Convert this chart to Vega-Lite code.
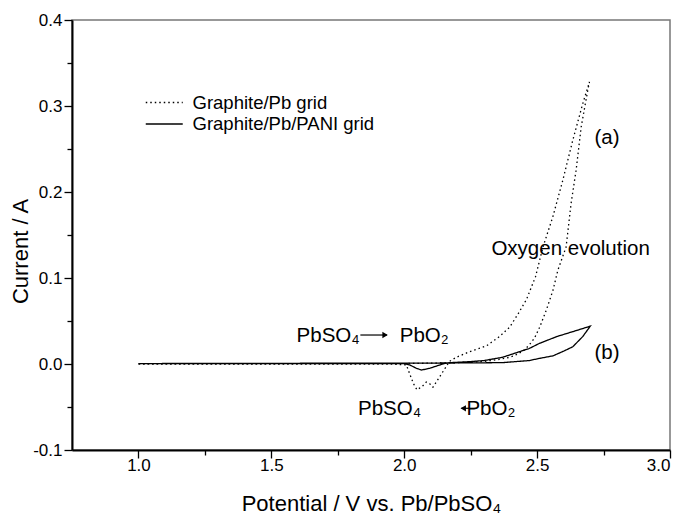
{
  "$schema": "https://vega.github.io/schema/vega-lite/v6.json",
  "width": 598,
  "height": 430,
  "autosize": {"type": "none"},
  "padding": {"left": 72, "top": 20, "right": 13, "bottom": 66},
  "background": "white",
  "config": {
    "font": "Liberation Sans",
    "view": {"stroke": "#777", "strokeWidth": 1.5},
    "axis": {
      "grid": false,
      "domainColor": "black",
      "domainWidth": 2,
      "tickColor": "black",
      "tickWidth": 1.3,
      "labelFont": "Liberation Sans",
      "labelFontSize": 17,
      "labelColor": "black",
      "titleFont": "Liberation Sans",
      "titleFontSize": 22,
      "titleFontWeight": "normal",
      "titleColor": "black"
    }
  },
  "datasets": {
    "curves": [
      {"series": "Graphite/Pb grid", "seq": 1, "V": 1.00, "I": 0.0000},
      {"series": "Graphite/Pb grid", "seq": 2, "V": 1.50, "I": 0.0000},
      {"series": "Graphite/Pb grid", "seq": 3, "V": 2.00, "I": 0.0005},
      {"series": "Graphite/Pb grid", "seq": 4, "V": 2.10, "I": 0.0010},
      {"series": "Graphite/Pb grid", "seq": 5, "V": 2.20, "I": 0.0015},
      {"series": "Graphite/Pb grid", "seq": 6, "V": 2.30, "I": 0.0030},
      {"series": "Graphite/Pb grid", "seq": 7, "V": 2.35, "I": 0.0050},
      {"series": "Graphite/Pb grid", "seq": 8, "V": 2.40, "I": 0.0080},
      {"series": "Graphite/Pb grid", "seq": 9, "V": 2.43, "I": 0.0120},
      {"series": "Graphite/Pb grid", "seq": 10, "V": 2.45, "I": 0.0160},
      {"series": "Graphite/Pb grid", "seq": 11, "V": 2.47, "I": 0.0220},
      {"series": "Graphite/Pb grid", "seq": 12, "V": 2.49, "I": 0.0300},
      {"series": "Graphite/Pb grid", "seq": 13, "V": 2.51, "I": 0.0430},
      {"series": "Graphite/Pb grid", "seq": 14, "V": 2.535, "I": 0.0630},
      {"series": "Graphite/Pb grid", "seq": 15, "V": 2.56, "I": 0.0860},
      {"series": "Graphite/Pb grid", "seq": 16, "V": 2.578, "I": 0.1090},
      {"series": "Graphite/Pb grid", "seq": 17, "V": 2.609, "I": 0.1360},
      {"series": "Graphite/Pb grid", "seq": 18, "V": 2.628, "I": 0.1870},
      {"series": "Graphite/Pb grid", "seq": 19, "V": 2.647, "I": 0.2260},
      {"series": "Graphite/Pb grid", "seq": 20, "V": 2.666, "I": 0.2760},
      {"series": "Graphite/Pb grid", "seq": 21, "V": 2.691, "I": 0.3190},
      {"series": "Graphite/Pb grid", "seq": 22, "V": 2.697, "I": 0.3280},
      {"series": "Graphite/Pb grid", "seq": 23, "V": 2.672, "I": 0.3030},
      {"series": "Graphite/Pb grid", "seq": 24, "V": 2.634, "I": 0.2600},
      {"series": "Graphite/Pb grid", "seq": 25, "V": 2.597, "I": 0.2140},
      {"series": "Graphite/Pb grid", "seq": 26, "V": 2.559, "I": 0.1710},
      {"series": "Graphite/Pb grid", "seq": 27, "V": 2.522, "I": 0.1360},
      {"series": "Graphite/Pb grid", "seq": 28, "V": 2.494, "I": 0.1015},
      {"series": "Graphite/Pb grid", "seq": 29, "V": 2.460, "I": 0.0750},
      {"series": "Graphite/Pb grid", "seq": 30, "V": 2.428, "I": 0.0580},
      {"series": "Graphite/Pb grid", "seq": 31, "V": 2.397, "I": 0.0430},
      {"series": "Graphite/Pb grid", "seq": 32, "V": 2.359, "I": 0.0320},
      {"series": "Graphite/Pb grid", "seq": 33, "V": 2.309, "I": 0.0210},
      {"series": "Graphite/Pb grid", "seq": 34, "V": 2.246, "I": 0.0143},
      {"series": "Graphite/Pb grid", "seq": 35, "V": 2.196, "I": 0.0078},
      {"series": "Graphite/Pb grid", "seq": 36, "V": 2.170, "I": 0.0030},
      {"series": "Graphite/Pb grid", "seq": 37, "V": 2.158, "I": -0.0030},
      {"series": "Graphite/Pb grid", "seq": 38, "V": 2.133, "I": -0.0150},
      {"series": "Graphite/Pb grid", "seq": 39, "V": 2.108, "I": -0.0270},
      {"series": "Graphite/Pb grid", "seq": 40, "V": 2.096, "I": -0.0230},
      {"series": "Graphite/Pb grid", "seq": 41, "V": 2.083, "I": -0.0210},
      {"series": "Graphite/Pb grid", "seq": 42, "V": 2.068, "I": -0.0260},
      {"series": "Graphite/Pb grid", "seq": 43, "V": 2.048, "I": -0.0300},
      {"series": "Graphite/Pb grid", "seq": 44, "V": 2.035, "I": -0.0230},
      {"series": "Graphite/Pb grid", "seq": 45, "V": 2.020, "I": -0.0110},
      {"series": "Graphite/Pb grid", "seq": 46, "V": 2.008, "I": -0.0010},
      {"series": "Graphite/Pb grid", "seq": 47, "V": 1.950, "I": 0.0000},
      {"series": "Graphite/Pb grid", "seq": 48, "V": 1.500, "I": 0.0000},
      {"series": "Graphite/Pb grid", "seq": 49, "V": 1.000, "I": 0.0000},
      {"series": "Graphite/Pb/PANI grid", "seq": 1, "V": 1.00, "I": 0.0005},
      {"series": "Graphite/Pb/PANI grid", "seq": 2, "V": 1.50, "I": 0.0008},
      {"series": "Graphite/Pb/PANI grid", "seq": 3, "V": 2.00, "I": 0.0010},
      {"series": "Graphite/Pb/PANI grid", "seq": 4, "V": 2.20, "I": 0.0012},
      {"series": "Graphite/Pb/PANI grid", "seq": 5, "V": 2.30, "I": 0.0014},
      {"series": "Graphite/Pb/PANI grid", "seq": 6, "V": 2.37, "I": 0.0016},
      {"series": "Graphite/Pb/PANI grid", "seq": 7, "V": 2.47, "I": 0.0040},
      {"series": "Graphite/Pb/PANI grid", "seq": 8, "V": 2.51, "I": 0.0066},
      {"series": "Graphite/Pb/PANI grid", "seq": 9, "V": 2.56, "I": 0.0095},
      {"series": "Graphite/Pb/PANI grid", "seq": 10, "V": 2.60, "I": 0.0150},
      {"series": "Graphite/Pb/PANI grid", "seq": 11, "V": 2.634, "I": 0.0200},
      {"series": "Graphite/Pb/PANI grid", "seq": 12, "V": 2.672, "I": 0.0320},
      {"series": "Graphite/Pb/PANI grid", "seq": 13, "V": 2.700, "I": 0.0440},
      {"series": "Graphite/Pb/PANI grid", "seq": 14, "V": 2.634, "I": 0.0376},
      {"series": "Graphite/Pb/PANI grid", "seq": 15, "V": 2.575, "I": 0.0320},
      {"series": "Graphite/Pb/PANI grid", "seq": 16, "V": 2.509, "I": 0.0240},
      {"series": "Graphite/Pb/PANI grid", "seq": 17, "V": 2.470, "I": 0.0180},
      {"series": "Graphite/Pb/PANI grid", "seq": 18, "V": 2.370, "I": 0.0078},
      {"series": "Graphite/Pb/PANI grid", "seq": 19, "V": 2.300, "I": 0.0040},
      {"series": "Graphite/Pb/PANI grid", "seq": 20, "V": 2.246, "I": 0.0027},
      {"series": "Graphite/Pb/PANI grid", "seq": 21, "V": 2.170, "I": 0.0015},
      {"series": "Graphite/Pb/PANI grid", "seq": 22, "V": 2.150, "I": 0.0005},
      {"series": "Graphite/Pb/PANI grid", "seq": 23, "V": 2.125, "I": -0.0020},
      {"series": "Graphite/Pb/PANI grid", "seq": 24, "V": 2.096, "I": -0.0050},
      {"series": "Graphite/Pb/PANI grid", "seq": 25, "V": 2.065, "I": -0.0070},
      {"series": "Graphite/Pb/PANI grid", "seq": 26, "V": 2.046, "I": -0.0050},
      {"series": "Graphite/Pb/PANI grid", "seq": 27, "V": 2.020, "I": -0.0010},
      {"series": "Graphite/Pb/PANI grid", "seq": 28, "V": 2.000, "I": 0.0005},
      {"series": "Graphite/Pb/PANI grid", "seq": 29, "V": 1.500, "I": 0.0005},
      {"series": "Graphite/Pb/PANI grid", "seq": 30, "V": 1.000, "I": 0.0005}
    ],
    "labels": [
      {"label": "PbSO₄", "V": 1.595, "I": 0.0259},
      {"label": "PbO₂", "V": 1.983, "I": 0.0259},
      {"label": "PbSO₄", "V": 1.826, "I": -0.0593},
      {"label": "PbO₂", "V": 2.234, "I": -0.0593},
      {"label": "Oxygen evolution", "V": 2.328, "I": 0.1267},
      {"label": "(a)", "V": 2.716, "I": 0.2558},
      {"label": "(b)", "V": 2.716, "I": 0.0055}
    ],
    "arrows": [
      {"head": "right", "V": 1.835, "V2": 1.935, "Vhead": 1.928, "I": 0.0337},
      {"head": "left", "V": 2.215, "V2": 2.27, "Vhead": 2.222, "I": -0.0515}
    ]
  },
  "layer": [
    {
      "data": {"name": "curves"},
      "mark": {"type": "line", "color": "black", "strokeWidth": 1.3},
      "encoding": {
        "x": {
          "field": "V", "type": "quantitative",
          "scale": {"domain": [0.75, 3.0], "nice": false, "zero": false},
          "axis": {
            "orient": "bottom",
            "title": "Potential / V vs. Pb/PbSO₄",
            "values": [1, 1.25, 1.5, 1.75, 2, 2.25, 2.5, 2.75, 3],
            "labelExpr": "round(datum.value*4)%2==0 ? format(datum.value,'.1f') : ''",
            "ticks": true,
            "tickSize": {"condition": {"test": "round(datum.value*4)%2==0", "value": 8}, "value": 5},
            "labelPadding": -1,
            "titlePadding": 20
          }
        },
        "y": {
          "field": "I", "type": "quantitative",
          "scale": {"domain": [-0.1, 0.4], "nice": false, "zero": false},
          "axis": {
            "orient": "left",
            "title": "Current / A",
            "values": [-0.1, -0.05, 0, 0.05, 0.1, 0.15, 0.2, 0.25, 0.3, 0.35, 0.4],
            "labelExpr": "round(datum.value*20)%2==0 ? replace(format(datum.value,'.1f'),'−','-') : ''",
            "ticks": true,
            "tickSize": {"condition": {"test": "round(datum.value*20)%2==0", "value": 8}, "value": 5},
            "labelPadding": 2,
            "titlePadding": 0,
            "titleY": 231
          }
        },
        "order": {"field": "seq", "type": "quantitative"},
        "strokeDash": {
          "field": "series", "type": "nominal",
          "scale": {"domain": ["Graphite/Pb grid", "Graphite/Pb/PANI grid"], "range": [[1.5, 3], [1, 0]]},
          "legend": {
            "orient": "none", "legendX": 82.25, "legendY": 72.5, "title": null,
            "symbolType": "M-2,0H2", "symbolSize": 342, "symbolStrokeColor": "black", "symbolStrokeWidth": 1.3,
            "labelFontSize": 18.5, "labelFont": "Liberation Sans", "labelColor": "black", "labelOffset": 18.25,
            "labelLimit": 400, "rowPadding": 1.5
          }
        }
      }
    },
    {
      "data": {"name": "labels"},
      "mark": {"type": "text", "align": "left", "baseline": "alphabetic", "fontSize": 20.5, "font": "Liberation Sans", "color": "black"},
      "encoding": {
        "x": {"field": "V", "type": "quantitative"},
        "y": {"field": "I", "type": "quantitative"},
        "text": {"field": "label"}
      }
    },
    {
      "data": {"name": "arrows"},
      "mark": {"type": "rule", "color": "black", "strokeWidth": 1.2},
      "encoding": {
        "x": {"field": "V", "type": "quantitative"},
        "x2": {"field": "V2"},
        "y": {"field": "I", "type": "quantitative"}
      }
    },
    {
      "data": {"name": "arrows"},
      "mark": {"type": "point", "filled": true, "color": "black", "size": 40, "opacity": 1},
      "encoding": {
        "x": {"field": "Vhead", "type": "quantitative"},
        "y": {"field": "I", "type": "quantitative"},
        "shape": {
          "field": "head", "type": "nominal",
          "scale": {"domain": ["right", "left"], "range": ["triangle-right", "triangle-left"]},
          "legend": null
        }
      }
    }
  ]
}
